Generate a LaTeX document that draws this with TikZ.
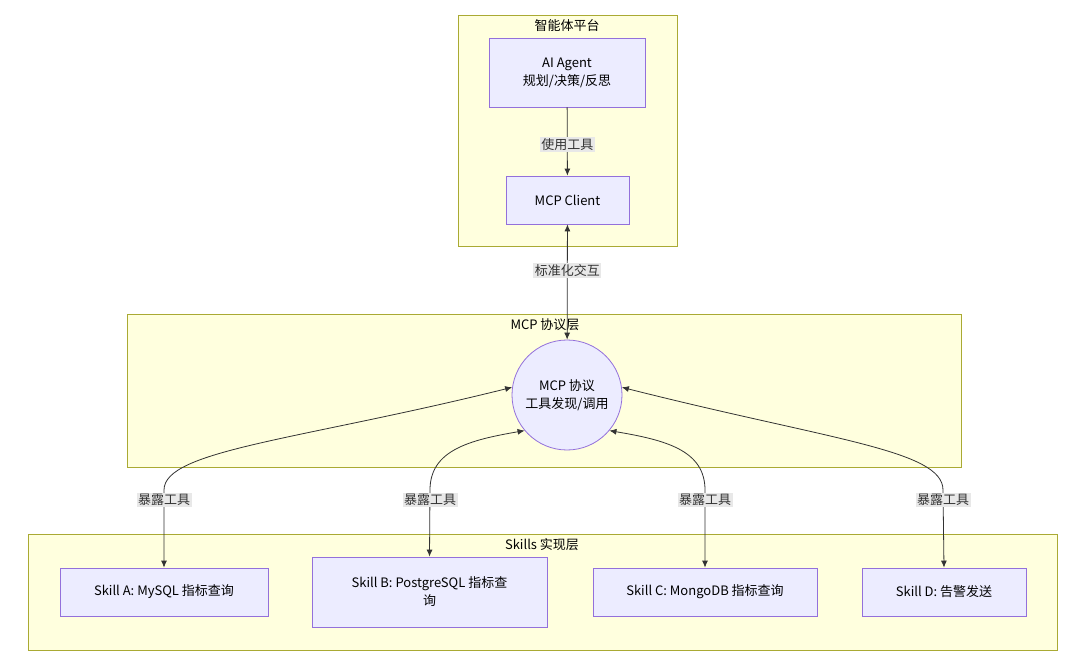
\documentclass[tikz,border=0pt]{standalone}
\usepackage{fontspec}
\setmainfont{Noto Sans CJK SC}
\usetikzlibrary{arrows.meta}
\definecolor{clf}{HTML}{FFFFDE}\definecolor{cls}{HTML}{AAAA33}
\definecolor{ndf}{HTML}{ECECFF}\definecolor{nds}{HTML}{9370DB}
\definecolor{lbl}{HTML}{E8E8E8}\definecolor{ln}{HTML}{333333}
\begin{document}
\begin{tikzpicture}[x=1pt,y=-1pt,font=\fontsize{13}{18}\selectfont,
 cl/.style={draw=cls,fill=clf,line width=0.8pt},
 nd/.style={draw=nds,fill=ndf,line width=0.8pt,align=center,inner sep=0pt},
 el/.style={fill=lbl,inner sep=1.5pt,text=ln},
 ed/.style={draw=ln,line width=0.8pt},
 tip/.style={-{Latex[length=7pt,width=6pt]}},
 btip/.style={{Latex[length=7pt,width=6pt]}-{Latex[length=7pt,width=6pt]}}]
\path[use as bounding box,fill=white] (0,0) rectangle (1080,663);
\draw[cl] (458,15) rectangle (677,246);
\node (t1) at (567,26) {智能体平台};
\draw[cl] (127,314) rectangle (961,467);
\node (t2) at (545,325) {MCP 协议层};
\draw[cl] (28,534) rectangle (1057,650);
\node (t3) at (542,545) {Skills 实现层};
\node[nd,minimum width=156,minimum height=69] (ag) at (567,72.5) {AI Agent\\规划/决策/反思};
\node[nd,minimum width=123,minimum height=48] (cli) at (567.5,200) {MCP Client};
\node[nd,circle,minimum size=110] (mcp) at (567,395) {MCP 协议\\工具发现/调用};
\node[nd,minimum width=208,minimum height=48] (sa) at (164,592) {Skill A: MySQL 指标查询};
\node[nd,minimum width=235,minimum height=70] (sb) at (429.5,592) {Skill B: PostgreSQL 指标查\\询};
\node[nd,minimum width=224,minimum height=48] (sc) at (705,592) {Skill C: MongoDB 指标查询};
\node[nd,minimum width=164,minimum height=48] (sd) at (944,592) {Skill D: 告警发送};
\draw[ed,tip] (ag) -- (cli) node[el,midway,yshift=-3] {使用工具};
\draw[ed,btip] (cli) -- (mcp) node[el,pos=0.4] {标准化交互};
\coordinate (ca) at (164,490); \coordinate (cb) at (430,490);
\coordinate (cc) at (705,490); \coordinate (cd) at (943,490);
\draw[ed,btip] (mcp.172) .. controls (300,440) and (164,450) .. (ca) -- (sa.north);
\draw[ed,btip] (mcp.220) .. controls (470,440) and (430,450) .. (cb) -- (sb.north);
\draw[ed,btip] (mcp.320) .. controls (665,440) and (705,450) .. (cc) -- (sc.north);
\draw[ed,btip] (mcp.8) .. controls (830,440) and (943,450) .. (cd) -- (sd.north);
\node[el] at (164,500) {暴露工具};
\node[el] at (430,500) {暴露工具};
\node[el] at (705,500) {暴露工具};
\node[el] at (943,500) {暴露工具};
\end{tikzpicture}
\end{document}
